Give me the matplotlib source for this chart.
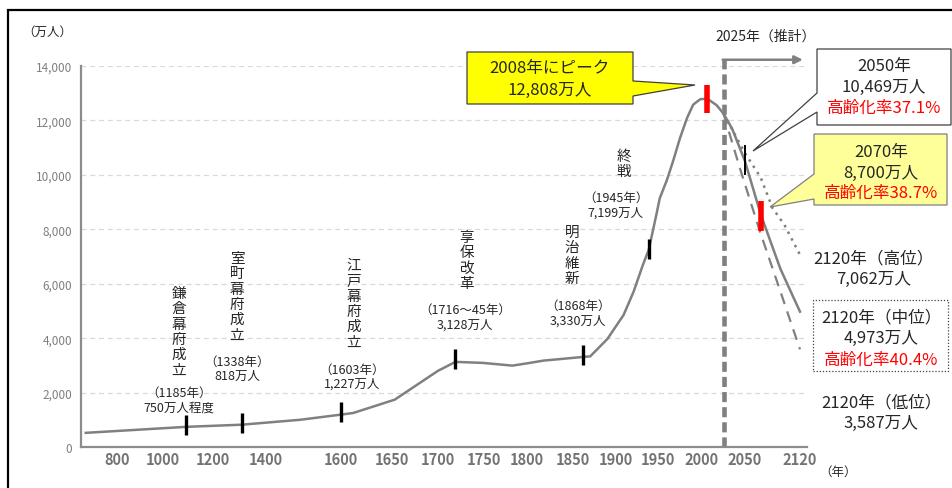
import numpy as np
import matplotlib
matplotlib.use("Agg")
import matplotlib.pyplot as plt
from matplotlib.patches import Polygon, Rectangle

plt.rcParams['font.family'] = ['Noto Sans CJK JP', 'DejaVu Sans']

# ---- data ----
hist_years = [670, 1092, 1309, 1491, 1600, 1612, 1653, 1700, 1719, 1749, 1783, 1803,
              1818, 1862, 1870, 1890, 1909, 1921, 1932, 1939, 1948, 1952, 1960, 1967,
              1975, 1983, 1990, 1998, 2006, 2017, 2025]
hist_values = [520, 740, 820, 1000, 1190, 1250, 1740, 2800, 3128, 3090, 2990, 3090,
               3175, 3310, 3330, 3970, 4850, 5710, 6690, 7250, 8530, 9140, 9800, 10490,
               11350, 12090, 12580, 12780, 12800, 12560, 12250]

mid_years = [2025, 2035, 2050, 2070, 2095, 2110, 2120]
mid_values = [12250, 11700, 10500, 8550, 6550, 5600, 4973]
high_years = [2025, 2050, 2070, 2085, 2100, 2120]
high_values = [12250, 10800, 9900, 8780, 8170, 7062]
low_years = [2025, 2044, 2069, 2095, 2120]
low_values = [12250, 10250, 7920, 5720, 3587]

event_years = [1092, 1309, 1600, 1719, 1862, 1939]
event_values = [820, 880, 1300, 3250, 3390, 7270]

peak_year, peak_value = 2006, 12800
y2050_year, y2050_value = 2050, 10550
y2070_year, y2070_value = 2070, 8500
proj_start = 2025

x_ticks = [800, 1000, 1200, 1400, 1600, 1650, 1700, 1750, 1800, 1850, 1900, 1950, 2000, 2050, 2120]
y_ticks = [0, 2000, 4000, 6000, 8000, 10000, 12000, 14000]

# uneven year axis, as in the original
scale_years = [650, 800, 1000, 1200, 1400, 1600, 1650, 1700, 1750, 1800, 1850, 1900, 1950, 2000, 2050, 2120, 2130]
scale_pos = [81, 116.7, 163, 213, 266, 341, 392, 438, 484, 527, 573, 616, 658, 702, 745, 800, 807]


def fwd(x):
    return np.interp(x, scale_years, scale_pos)


def inv(p):
    return np.interp(p, scale_pos, scale_years)


W, H = 952, 489


def fp(x, y):
    return x / W, 1 - y / H


fig = plt.figure(figsize=(W / 100, H / 100), dpi=100)
ax = fig.add_axes([81 / W, 1 - 448 / H, (807 - 81) / W, (448 - 67) / H])
ax.set_xscale('function', functions=(fwd, inv))
ax.set_xlim(650, 2130)
ax.set_ylim(0, 14000)

gray = '#808080'
ax.plot(hist_years, hist_values, color=gray, lw=1.8, zorder=3)
ax.plot(mid_years, mid_values, color=gray, lw=1.8, zorder=3)
ax.plot(high_years, high_values, color=gray, lw=1.8, ls=(0, (1, 2)), zorder=3)
ax.plot(low_years, low_values, color=gray, lw=1.6, ls=(0, (5, 3.5)), zorder=3)

ax.plot(event_years, event_values, ls='none', marker='|', ms=14, mew=2.4, color='black', zorder=4)
ax.plot([y2050_year], [y2050_value], ls='none', marker='|', ms=22, mew=1.4, color='black', zorder=4)
ax.plot([peak_year], [peak_value], ls='none', marker='|', ms=20, mew=4, color='#ff0000', zorder=4)
ax.plot([y2070_year], [y2070_value], ls='none', marker='|', ms=21, mew=4, color='#ff0000', zorder=4)

# 2025 projection start
ax.plot([proj_start, proj_start], [0, 14230], color=gray, lw=3.3, ls=(0, (2.2, 1.1)),
        clip_on=False, zorder=2)
ax.annotate('', xy=(2124, 14230), xytext=(proj_start - 1, 14230),
            arrowprops=dict(arrowstyle='-|>', color=gray, lw=1.8, mutation_scale=12,
                            shrinkA=0, shrinkB=0),
            annotation_clip=False, zorder=2)

ax.set_xticks(x_ticks)
ax.set_xticklabels([str(v) for v in x_ticks], fontweight='bold', fontsize=10.5, color='#737373')
ax.set_yticks(y_ticks)
ax.set_yticklabels([f'{v:,}' for v in y_ticks], fontsize=8.5, color='#7f7f7f')
ax.tick_params(length=0, pad=6.5)
ax.tick_params(axis='x', pad=3)
ax.minorticks_off()
for v in y_ticks[1:]:
    ax.axhline(v, color='#d9d9d9', lw=0.9, ls=(0, (4, 3)), zorder=1)
for s in ['top', 'right']:
    ax.spines[s].set_visible(False)
for s in ['left', 'bottom']:
    ax.spines[s].set_color('#8c8c8c')
    ax.spines[s].set_linewidth(1.6)

# outer frame
fig.add_artist(Rectangle(fp(8, 500), 960 / W, (500 - 11) / H, transform=fig.transFigure,
                         fill=False, ec='black', lw=1.6, zorder=0))

txt = '#262626'


def ftext(x, y, s, **kw):
    fig.text(*fp(x, y), s, ha='center', va='center', color=kw.pop('color', txt), **kw)


def vtext(x, ytop, s, size=10.5):
    fig.text(*fp(x, ytop), '\n'.join(s), ha='center', va='top', fontsize=size,
             linespacing=1.12, color=txt)


ftext(47, 32, '（万人）', fontsize=9)
ftext(838, 472, '（年）', fontsize=9)
ftext(766, 37, '2025年（推計）', fontsize=10)

vtext(179, 287, '鎌倉幕府成立')
ftext(179, 393, '（1185年）', fontsize=9)
ftext(179, 408, '750万人程度', fontsize=9)
vtext(237, 252, '室町幕府成立')
ftext(237, 362, '（1338年）', fontsize=9)
ftext(237, 376, '818万人', fontsize=9)
vtext(354, 259, '江戸幕府成立')
ftext(352, 370, '（1603年）', fontsize=9)
ftext(352, 384, '1,227万人', fontsize=9)
vtext(467, 231, '享保改革')
ftext(465, 310, '（1716～45年）', fontsize=9)
ftext(465, 325, '3,128万人', fontsize=9)
vtext(572, 226, '明治維新')
ftext(578, 306, '（1868年）', fontsize=9)
ftext(578, 321, '3,330万人', fontsize=9)
vtext(624, 150, '終戦')
ftext(616, 198, '（1945年）', fontsize=9)
ftext(616, 213, '7,199万人', fontsize=9)

# callouts
peak_box = [(467, 53), (633, 53), (633, 82), (695, 86), (633, 97), (633, 105), (467, 105)]
fig.add_artist(Polygon([fp(*v) for v in peak_box], closed=True, transform=fig.transFigure,
                       fc='#ffff00', ec='#404040', lw=0.9, zorder=5))
ftext(550, 69, '2008年にピーク', fontsize=12, zorder=6)
ftext(550, 90, '12,808万人', fontsize=12, zorder=6)

box2050 = [(817, 50), (951, 50), (951, 126), (817, 126), (817, 113), (753, 152), (817, 94)]
fig.add_artist(Polygon([fp(*v) for v in box2050], closed=True, transform=fig.transFigure,
                       fc='white', ec='#404040', lw=0.9, zorder=5))
ftext(884, 67, '2050年', fontsize=12, zorder=6)
ftext(884, 87, '10,469万人', fontsize=12, zorder=6)
ftext(884, 108, '高齢化率37.1%', fontsize=12, color='#ff0000', zorder=6)

box2070 = [(814, 135), (947, 135), (947, 206), (814, 206), (814, 200), (770, 208), (814, 175)]
fig.add_artist(Polygon([fp(*v) for v in box2070], closed=True, transform=fig.transFigure,
                       fc='#ffff99', ec='#7f7f7f', lw=0.9, zorder=5))
ftext(881, 152, '2070年', fontsize=12, zorder=6)
ftext(881, 173, '8,700万人', fontsize=12, zorder=6)
ftext(881, 193, '高齢化率38.7%', fontsize=12, color='#ff0000', zorder=6)

ftext(874, 259, '2120年（高位）', fontsize=12)
ftext(874, 279, '7,062万人', fontsize=12)

fig.add_artist(Rectangle(fp(813, 372), (948 - 813) / W, (372 - 301) / H, transform=fig.transFigure,
                         fill=False, ec='#404040', lw=0.9, ls=(0, (1, 1.5)), zorder=5))
ftext(881, 318, '2120年（中位）', fontsize=12)
ftext(881, 338, '4,973万人', fontsize=12)
ftext(881, 360, '高齢化率40.4%', fontsize=12, color='#ff0000')

ftext(881, 403, '2120年（低位）', fontsize=12)
ftext(881, 423, '3,587万人', fontsize=12)

fig.savefig('out.png', dpi=100)
